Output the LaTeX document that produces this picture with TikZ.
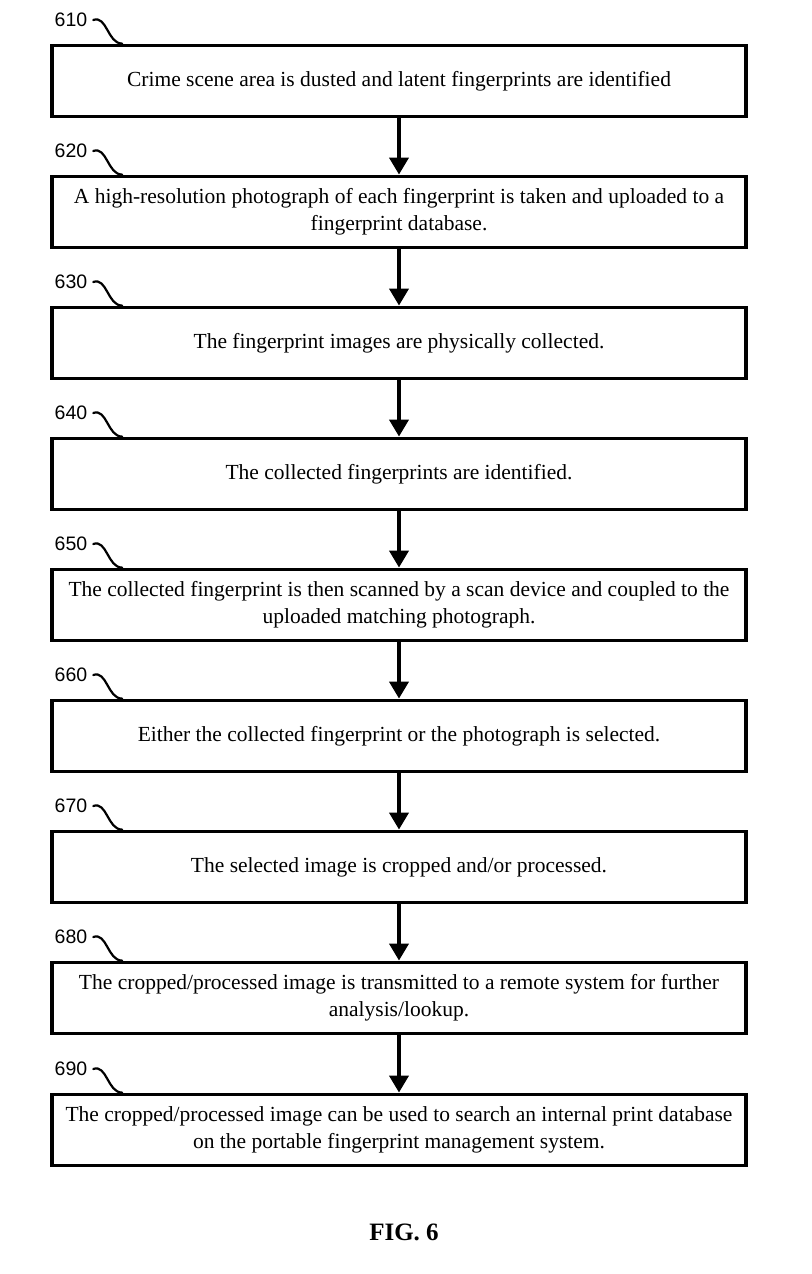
\documentclass[tikz,border=0pt]{standalone}
\usepackage{fontspec}
\setmainfont{Liberation Serif}
\setsansfont{Liberation Sans}
\usetikzlibrary{arrows.meta}

\tikzset{
    stepbox/.style={draw, line width=3.8pt, minimum width=694pt, minimum height=71pt, inner sep=0pt, align=center, font=\fontsize{21.5}{26.5}\selectfont},
    reflabel/.style={inner sep=1pt, outer sep=5pt, font=\sffamily\fontsize{19.5}{19.5}\selectfont},
    flow/.style={line width=3.8pt, -{Triangle[width=19pt,length=17pt]}},
    lead/.style={line width=2.2pt, line cap=round},
}

\begin{document}
\begin{tikzpicture}[x=1pt,y=1pt]
    \useasboundingbox (0,0) rectangle (811,1274);

    \node[stepbox] (s610) at (399,1193) {Crime scene area is dusted and latent fingerprints are identified};
    \node[stepbox] (s620) at (399,1062) {A high-resolution photograph of each fingerprint is taken and uploaded to a\\ fingerprint database.};
    \node[stepbox] (s630) at (399,931) {The fingerprint images are physically collected.};
    \node[stepbox] (s640) at (399,800) {The collected fingerprints are identified.};
    \node[stepbox] (s650) at (399,669) {The collected fingerprint is then scanned by a scan device and coupled to the\\ uploaded matching photograph.};
    \node[stepbox] (s660) at (399,538) {Either the collected fingerprint or the photograph is selected.};
    \node[stepbox] (s670) at (399,407) {The selected image is cropped and/or processed.};
    \node[stepbox] (s680) at (399,276) {The cropped/processed image is transmitted to a remote system for further\\ analysis/lookup.};
    \node[stepbox] (s690) at (399,144) {The cropped/processed image can be used to search an internal print database\\ on the portable fingerprint management system.};

    \node[reflabel] (l610) at (71,1254) {610};
    \node[reflabel] (l620) at (71,1123) {620};
    \node[reflabel] (l630) at (71,992) {630};
    \node[reflabel] (l640) at (71,861) {640};
    \node[reflabel] (l650) at (71,730) {650};
    \node[reflabel] (l660) at (71,599) {660};
    \node[reflabel] (l670) at (71,468) {670};
    \node[reflabel] (l680) at (71,337) {680};
    \node[reflabel] (l690) at (71,205) {690};

    \draw[lead] (l610.east) to[out=20,in=180] ([xshift=72pt]s610.north west);
    \draw[lead] (l620.east) to[out=20,in=180] ([xshift=72pt]s620.north west);
    \draw[lead] (l630.east) to[out=20,in=180] ([xshift=72pt]s630.north west);
    \draw[lead] (l640.east) to[out=20,in=180] ([xshift=72pt]s640.north west);
    \draw[lead] (l650.east) to[out=20,in=180] ([xshift=72pt]s650.north west);
    \draw[lead] (l660.east) to[out=20,in=180] ([xshift=72pt]s660.north west);
    \draw[lead] (l670.east) to[out=20,in=180] ([xshift=72pt]s670.north west);
    \draw[lead] (l680.east) to[out=20,in=180] ([xshift=72pt]s680.north west);
    \draw[lead] (l690.east) to[out=20,in=180] ([xshift=72pt]s690.north west);

    \draw[flow] (s610) -- (s620);
    \draw[flow] (s620) -- (s630);
    \draw[flow] (s630) -- (s640);
    \draw[flow] (s640) -- (s650);
    \draw[flow] (s650) -- (s660);
    \draw[flow] (s660) -- (s670);
    \draw[flow] (s670) -- (s680);
    \draw[flow] (s680) -- (s690);

    \node[font=\bfseries\fontsize{25}{25}\selectfont] (fig) at (404,42) {FIG. 6};
\end{tikzpicture}
\end{document}
